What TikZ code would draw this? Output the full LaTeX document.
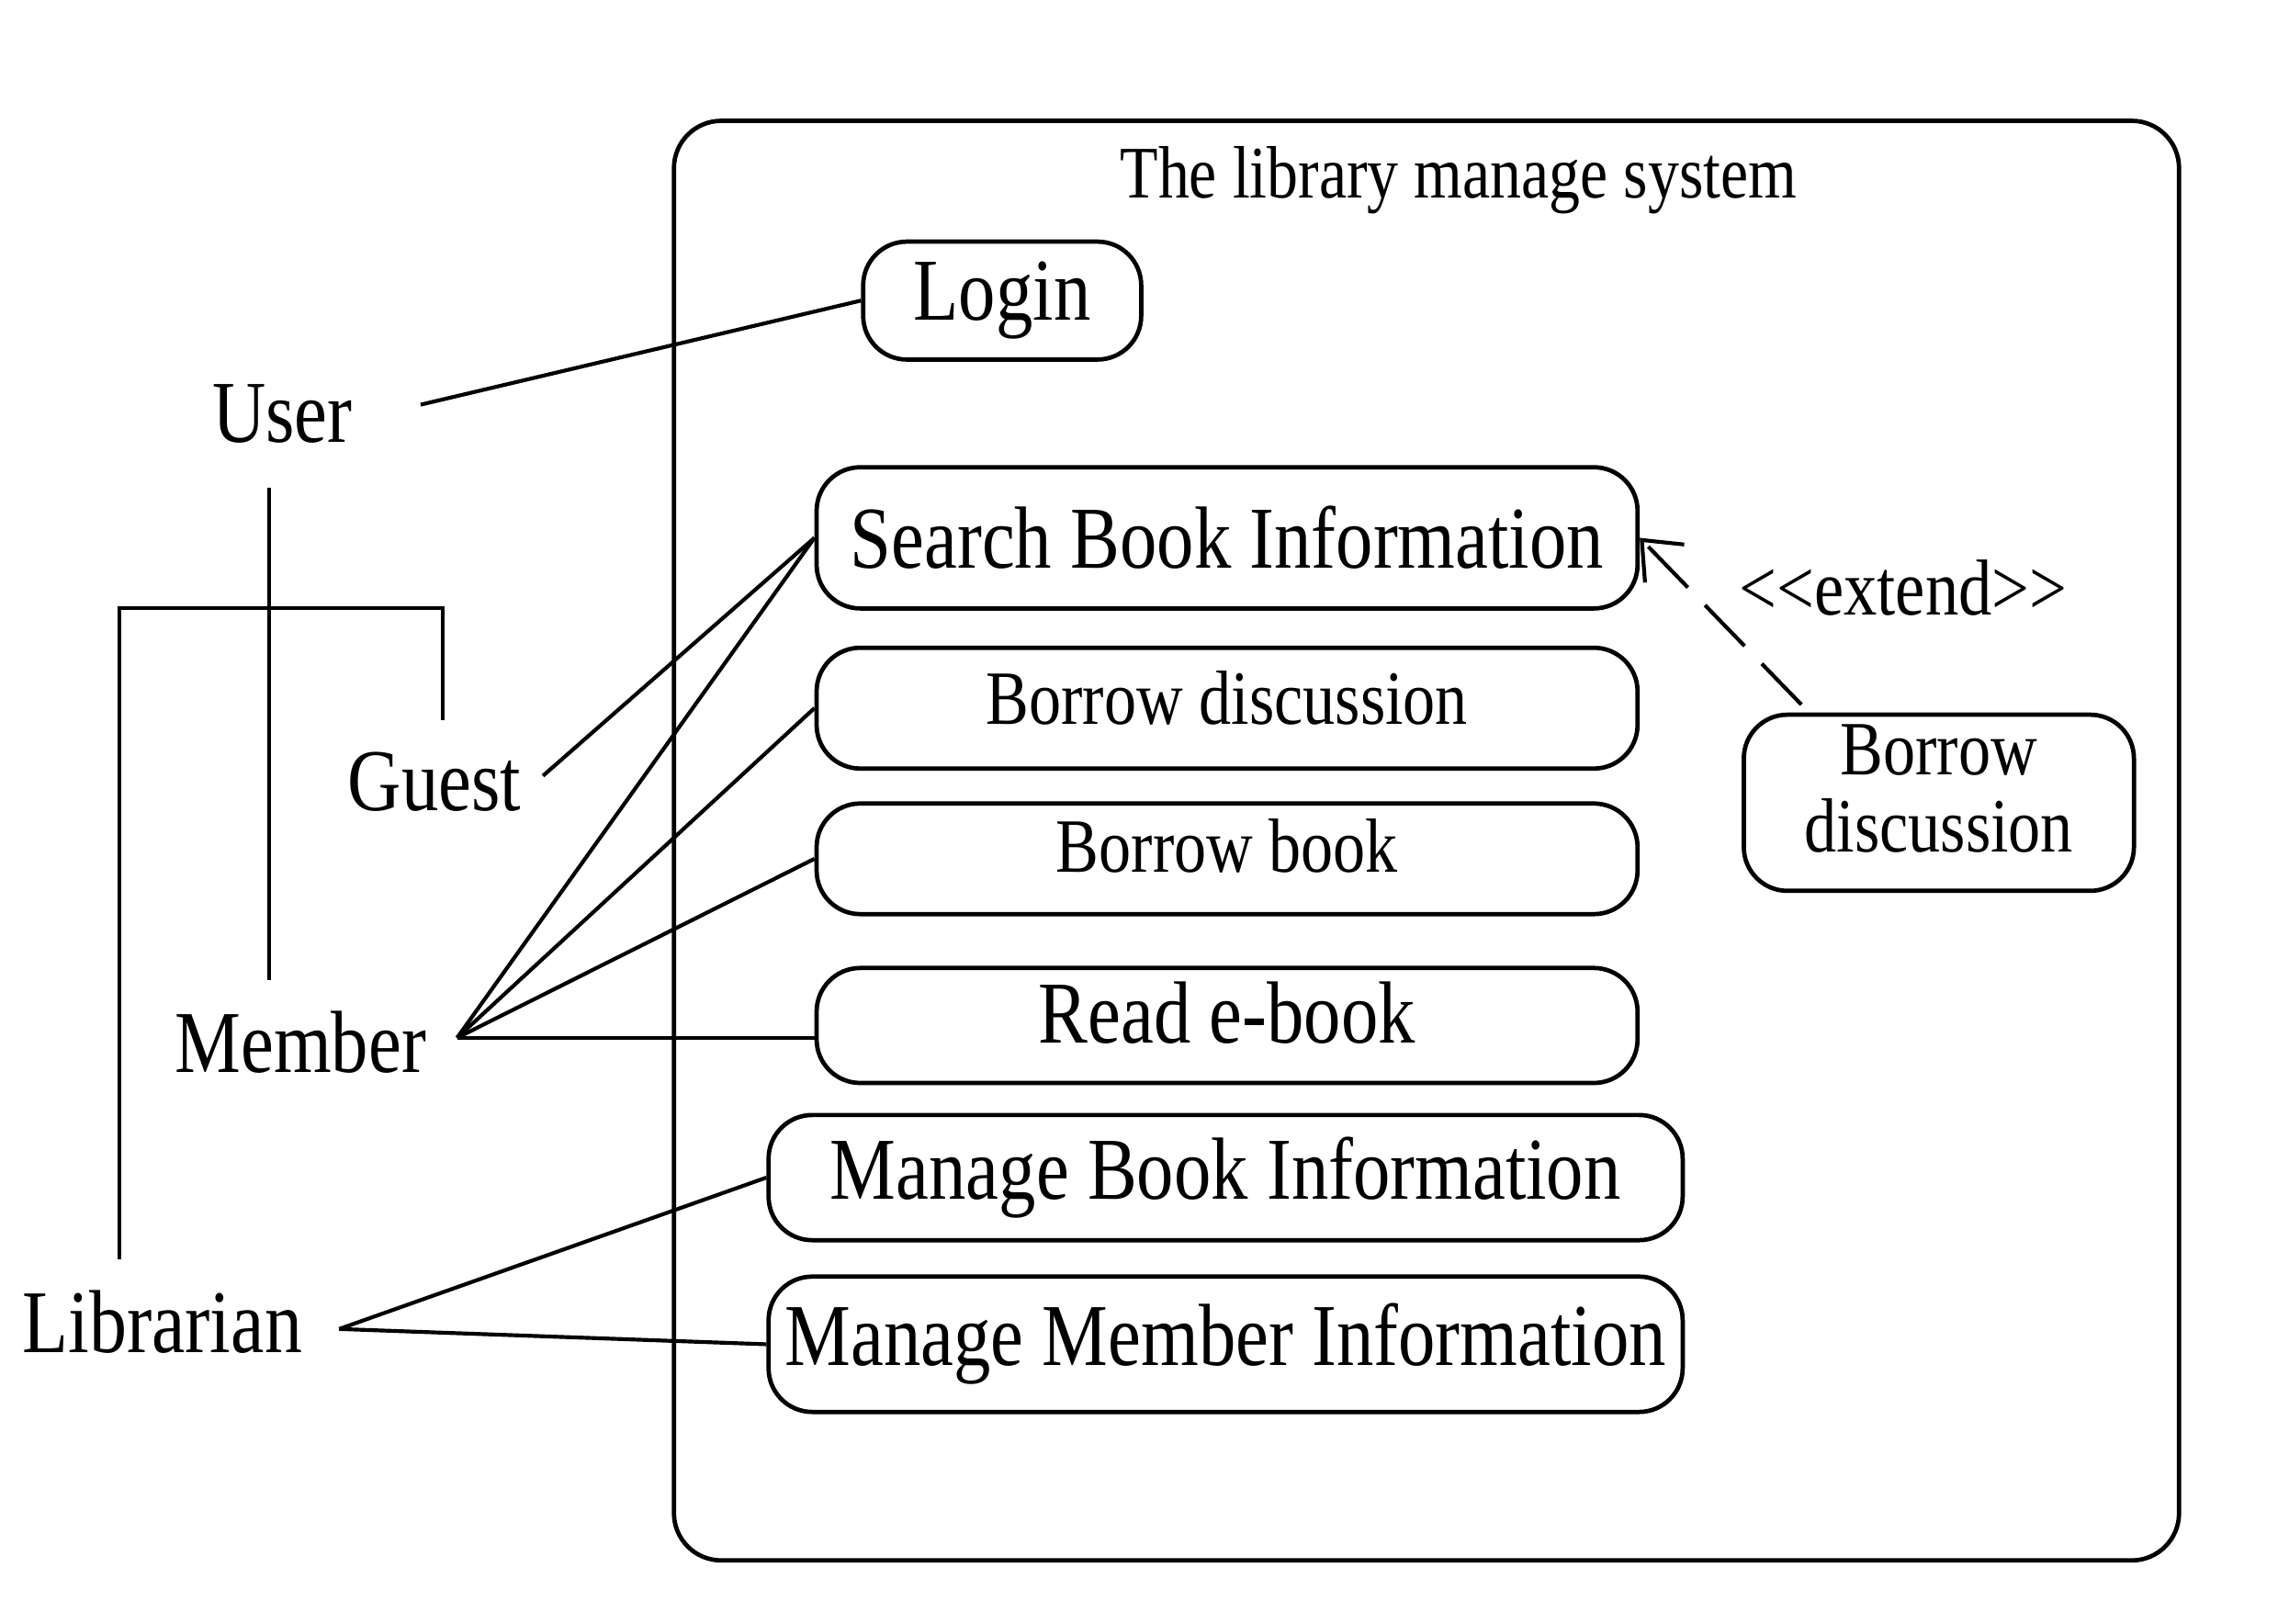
\documentclass[tikz,border=0pt]{standalone}
\usepackage{fontspec}
\setmainfont[FakeStretch=0.84]{Liberation Serif}
\usetikzlibrary{arrows.meta}

\begin{document}
\begin{tikzpicture}
    % Define styles
    \tikzstyle{usecase} = [rectangle, rounded corners=0.6cm, draw=black, line width=1.7pt,
                          align=center, inner sep=0pt]
    \tikzstyle{big} = [font=\fontsize{34.5}{40}\selectfont]
    \tikzstyle{small} = [font=\fontsize{30}{30}\selectfont]
    \tikzstyle{actor} = [big, inner sep=0pt]
    \tikzstyle{link} = [line width=1.5pt]
    \tikzstyle{arrow} = [line width=1.5pt, dash pattern=on 0.78cm off 0.34cm,
                         -{Straight Barb[length=0.45cm,width=0.75cm]}]

    \useasboundingbox (0,0) rectangle (31.3,-22.31);

    % System boundary
    \node[draw, line width=1.7pt, rounded corners=0.65cm, minimum width=20.68cm,
          minimum height=19.78cm] (system) at (19.6,-11.55) {};
    \node[font=\fontsize{29}{34}\selectfont] (title) at (20.04,-2.48) {The library manage system};

    % Use cases positioned absolutely
    \node[usecase, big, minimum width=3.82cm, minimum height=1.62cm] (login) at (13.77,-4.13) {Login};
    \node[usecase, big, minimum width=11.28cm, minimum height=1.94cm] (search) at (16.86,-7.39) {Search Book Information};
    \node[usecase, small, text depth=0.3cm, minimum width=11.28cm, minimum height=1.66cm] (borrowd) at (16.86,-9.73) {Borrow discussion};
    \node[usecase, small, text depth=0.36cm, minimum width=11.28cm, minimum height=1.52cm] (borrowb) at (16.86,-11.8) {Borrow book};
    \node[usecase, big, text depth=0.36cm, minimum width=11.28cm, minimum height=1.58cm] (read) at (16.86,-14.09) {Read e-book};
    \node[usecase, big, minimum width=12.56cm, minimum height=1.72cm] (manageb) at (16.84,-16.18) {Manage Book Information};
    \node[usecase, big, minimum width=12.56cm, minimum height=1.86cm] (managem) at (16.84,-18.47) {Manage Member Information};
    \node[usecase, small, text depth=0.4cm, minimum width=5.36cm, minimum height=2.42cm] (extbox) at (26.64,-11.03) {Borrow\\discussion};
    \node[font=\fontsize{31}{34}\selectfont] (extlabel) at (26.15,-8.08) {{<}{<}extend{>}{>}};

    % Actors
    \node[actor] (user) at (3.88,-5.68) {User};
    \node[actor] (guest) at (5.97,-10.74) {Guest};
    \node[actor] (member) at (4.13,-14.32) {Member};
    \node[actor, font=\fontsize{35}{40}\selectfont] (librarian) at (2.23,-18.16) {Librarian};

    % Connector ends
    \coordinate (userR) at (5.78,-5.56);
    \coordinate (guestR) at (7.46,-10.66);
    \coordinate (memberR) at (6.28,-14.26);
    \coordinate (libR) at (4.66,-18.26);
    \coordinate (userB) at (3.7,-6.7);
    \coordinate (memberT) at (3.7,-13.46);
    \coordinate (bar) at (3.7,-8.36);
    \coordinate (libT) at (1.64,-17.3);
    \coordinate (guestT) at (6.08,-9.9);
    \coordinate (extS) at (24.75,-9.68);

    % Generalisation lines
    \draw[link] (userB) -- (memberT);
    \draw[link] (libT) |- (bar) -| (guestT);

    % Associations
    \draw[link] (userR) -- (login.west);
    \draw[link] (guestR) -- (search.west);
    \draw[link] (memberR) -- (search.west);
    \draw[link] (memberR) -- (borrowd.west);
    \draw[link] (memberR) -- (borrowb.west);
    \draw[link] (memberR) -- (memberR -| read.west);
    \draw[link] (libR) -- (manageb.west);
    \draw[link] (libR) -- (managem.west);

    % Extend
    \draw[arrow] (extS) -- (search.east);
\end{tikzpicture}
\end{document}
